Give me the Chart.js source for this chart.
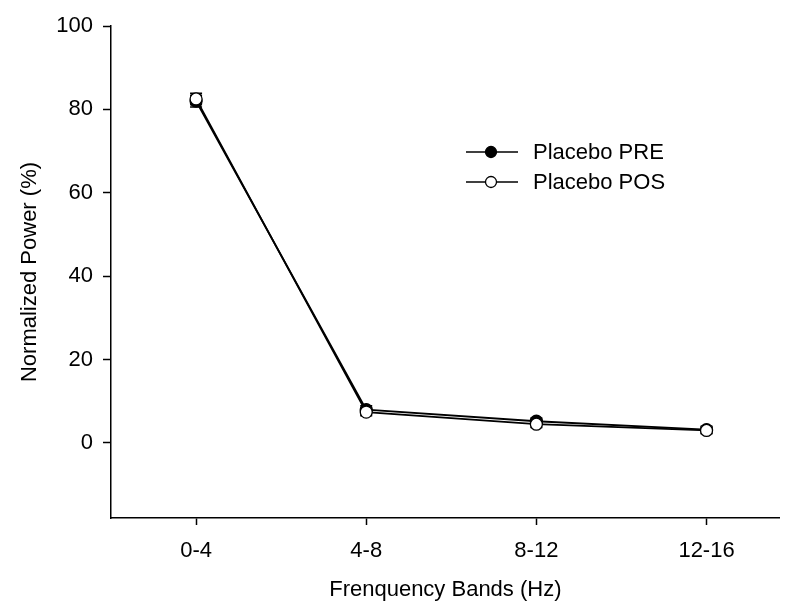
<!DOCTYPE html>
<html>
<head>
<meta charset="utf-8">
<script src="https://cdn.jsdelivr.net/npm/chart.js@4"></script>
<style>
  html, body { margin: 0; padding: 0; background: #fff; }
  #wrap { width: 787px; height: 608px; }
</style>
</head>
<body>
<div id="wrap"><canvas id="chart" width="787" height="608"></canvas></div>
<script>
const bands = ['0-4', '4-8', '8-12', '12-16']
const prePower = [82.0, 8.0, 5.2, 3.2]
const preError = [1.4, 0.9, 0.8, 0.8]
const posPower = [82.5, 7.4, 4.5, 3.0]
const posError = [1.4, 0.9, 0.8, 0.8]
const yTicks = [0, 20, 40, 60, 80, 100]

const FONT = 'Liberation Sans, Arial, sans-serif'
const SIZE = 22

// Error bars drawn under the markers
const errorBars = {
  id: 'errorBars',
  beforeDatasetsDraw(chart) {
    const ctx = chart.ctx
    const xs = chart.scales.x
    const ys = chart.scales.y
    ctx.save()
    ctx.strokeStyle = '#000'
    ctx.lineWidth = 1.5
    chart.data.datasets.forEach((ds) => {
      ds.data.forEach((p, i) => {
        const err = ds.errors[i]
        const x = xs.getPixelForValue(p.x)
        const yTop = ys.getPixelForValue(p.y + err)
        const yBot = ys.getPixelForValue(p.y - err)
        ctx.beginPath()
        ctx.moveTo(x, yTop)
        ctx.lineTo(x, yBot)
        ctx.moveTo(x - 6, yTop)
        ctx.lineTo(x + 6, yTop)
        ctx.moveTo(x - 6, yBot)
        ctx.lineTo(x + 6, yBot)
        ctx.stroke()
      })
    })
    ctx.restore()
  },
}

// Legend: line with marker, then label
const lineLegend = {
  id: 'lineLegend',
  afterDraw(chart) {
    const ctx = chart.ctx
    ctx.save()
    ctx.font = SIZE + 'px ' + FONT
    ctx.textBaseline = 'middle'
    chart.data.datasets.forEach((ds, i) => {
      const y = 152 + i * 30
      ctx.strokeStyle = '#000'
      ctx.lineWidth = 1.5
      ctx.beginPath()
      ctx.moveTo(466, y)
      ctx.lineTo(518, y)
      ctx.stroke()
      ctx.beginPath()
      ctx.arc(491, y, 5.5, 0, Math.PI * 2)
      ctx.fillStyle = ds.pointBackgroundColor
      ctx.fill()
      ctx.lineWidth = 1.3
      ctx.stroke()
      ctx.fillStyle = '#000'
      ctx.fillText(ds.label, 533, y + 1)
    })
    ctx.restore()
  },
}

const toPoints = (vals) => vals.map((v, i) => ({ x: i, y: v }))

new Chart(document.getElementById('chart'), {
  type: 'line',
  data: {
    datasets: [
      {
        label: 'Placebo PRE',
        data: toPoints(prePower),
        errors: preError,
        order: 1,
        borderColor: '#000',
        borderWidth: 1.8,
        pointRadius: 6,
        pointBorderWidth: 1.3,
        pointBackgroundColor: '#000',
        pointBorderColor: '#000',
      },
      {
        label: 'Placebo POS',
        data: toPoints(posPower),
        errors: posError,
        order: 0,
        borderColor: '#000',
        borderWidth: 1.8,
        pointRadius: 6,
        pointBorderWidth: 1.3,
        pointBackgroundColor: '#fff',
        pointBorderColor: '#000',
      },
    ],
  },
  options: {
    responsive: false,
    animation: false,
    layout: { padding: { top: 26, right: 0, left: 0, bottom: 0 } },
    plugins: {
      legend: { display: false },
      tooltip: { enabled: false },
    },
    scales: {
      x: {
        type: 'linear',
        min: -0.5,
        max: 3.43,
        afterBuildTicks: (scale) => {
          scale.ticks = bands.map((b, i) => ({ value: i }))
        },
        afterFit: (scale) => {
          scale.height = 90
          scale.paddingLeft = 0
          scale.paddingRight = 0
        },
        ticks: {
          color: '#000',
          font: { family: FONT, size: SIZE },
          padding: 13,
          autoSkip: false,
          maxRotation: 0,
          callback: (v) => bands[v],
        },
        grid: {
          drawOnChartArea: false,
          drawTicks: true,
          tickLength: 7,
          tickWidth: 1.5,
          color: '#000',
        },
        border: { display: true, color: '#000', width: 1.5 },
        title: {
          display: true,
          text: 'Frenquency Bands (Hz)',
          color: '#000',
          font: { family: FONT, size: SIZE },
          padding: { top: 0, bottom: 5 },
        },
      },
      y: {
        min: -18,
        max: 100,
        afterBuildTicks: (scale) => {
          scale.ticks = yTicks.map((v) => ({ value: v }))
        },
        afterFit: (scale) => {
          scale.width = 111
          scale.paddingTop = 0
          scale.paddingBottom = 0
        },
        ticks: {
          color: '#000',
          font: { family: FONT, size: SIZE },
          padding: 10,
        },
        grid: {
          drawOnChartArea: false,
          drawTicks: true,
          tickLength: 8,
          tickWidth: 1.5,
          color: '#000',
        },
        border: { display: true, color: '#000', width: 1.5 },
        title: {
          display: true,
          text: 'Normalized Power (%)',
          color: '#000',
          font: { family: FONT, size: SIZE },
          padding: { top: 17, bottom: 0 },
        },
      },
    },
  },
  plugins: [errorBars, lineLegend],
})
</script>
</body>
</html>
